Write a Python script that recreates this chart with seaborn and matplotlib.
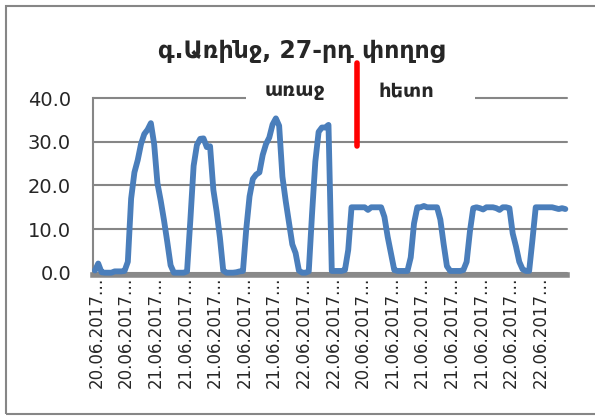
import numpy as np
import pandas as pd
import matplotlib
matplotlib.use("Agg")
import matplotlib.pyplot as plt
from matplotlib.patches import Rectangle
import seaborn as sns

# Chart text
TITLE = "գ.Առինջ, 27-րդ փողոց"
LABEL_BEFORE = "առաջ"
LABEL_AFTER = "հետո"

# Values, one per category (first half = before, second half = after)
before_values = [
    0.5, 2.1, 0.1, 0.0, 0.0, 0.0, 0.3, 0.3, 0.3, 0.4,
    2.5, 17.0, 23.0, 25.8, 29.5, 31.8, 32.8, 34.3, 29.5, 20.5,
    16.5, 12.0, 7.0, 1.7, 0.0, 0.0, 0.0, 0.0, 0.3, 12.0,
    24.5, 29.3, 30.7, 30.8, 28.8, 29.0, 19.0, 14.0, 8.0, 0.5,
    0.0, 0.0, 0.0, 0.1, 0.3, 0.4, 10.0, 17.5, 21.5, 22.5,
    23.0, 27.0, 29.5, 31.0, 34.0, 35.4, 33.7, 22.0, 16.4, 11.5,
    6.5, 4.5, 0.5, 0.0, 0.0, 0.3, 13.5, 25.5, 32.3, 33.3,
    33.3, 33.9,
]
after_values = [
    0.4, 0.4, 0.4, 0.4, 0.6, 5.2, 15.0, 15.0, 15.0, 15.0,
    15.0, 14.4, 15.0, 15.0, 15.0, 15.0, 12.8, 8.2, 4.4, 0.6,
    0.4, 0.4, 0.4, 0.4, 3.5, 11.3, 15.0, 15.0, 15.3, 15.0,
    15.0, 15.0, 15.0, 12.2, 6.6, 1.5, 0.4, 0.4, 0.4, 0.4,
    0.6, 2.5, 9.5, 14.8, 15.0, 14.8, 14.5, 15.0, 15.0, 15.0,
    14.8, 14.4, 15.0, 15.0, 14.8, 9.0, 6.0, 2.5, 0.8, 0.4,
    0.4, 7.5, 15.0, 15.0, 15.0, 15.0, 15.0, 15.0, 14.8, 14.6,
    14.8, 14.6,
]

# Category labels shown every 9 points (truncated like in the original)
x_tick_labels = [
    "20.06.2017…", "20.06.2017…", "21.06.2017…", "21.06.2017…",
    "21.06.2017…", "21.06.2017…", "21.06.2017…", "22.06.2017…",
    "22.06.2017…", "20.06.2017…", "21.06.2017…", "21.06.2017…",
    "21.06.2017…", "21.06.2017…", "22.06.2017…", "22.06.2017…",
]
y_ticks = [0, 10, 20, 30, 40]

# Red separator and the two labels above the plot
red_x = 79.6
red_y = [29, 48]
before_label_pos = (60.8, 41.7)
after_label_pos = (94.8, 41.7)

values = before_values + after_values
df = pd.DataFrame({"step": np.arange(len(values)), "value": values})

sns.set_style("white")
plt.rcParams["font.family"] = ["DejaVu Sans"]

GRAY = "#868686"
BLUE = "#4a7ebb"

fig = plt.figure(figsize=(5.95, 4.16), dpi=100)
ax = fig.add_axes([0.1568, 0.3445, 0.7961, 0.4192])

sns.lineplot(data=df, x="step", y="value", ax=ax, color=BLUE,
             linewidth=4.2, clip_on=False, zorder=5)

ax.set_xlim(-0.5, len(values) - 0.5)
ax.set_ylim(0, 40)
ax.set_xlabel("")
ax.set_ylabel("")

ax.set_yticks(y_ticks)
ax.set_yticklabels([f"{v:.1f}" for v in y_ticks])
ax.set_xticks(np.arange(len(x_tick_labels)) * 9 + 0.5)
ax.set_xticklabels(x_tick_labels)
ax.tick_params(axis="x", length=0, pad=1, labelsize=12, labelrotation=90)
ax.tick_params(axis="y", length=5, width=1.5, color=GRAY, pad=11, labelsize=14)

ax.grid(axis="y", color=GRAY, linewidth=1.5)
ax.grid(axis="x", visible=False)
ax.set_axisbelow(True)
for line in ax.get_ygridlines():
    line.set_clip_on(False)

for side in ["top", "right"]:
    ax.spines[side].set_visible(False)
ax.spines["left"].set_color(GRAY)
ax.spines["left"].set_linewidth(1.5)
ax.spines["bottom"].set_color("#898989")
ax.spines["bottom"].set_linewidth(4)
ax.spines["bottom"].set_position(("outward", 2))

# white box hiding the top gridline behind the labels
ax.add_patch(Rectangle((0.322, 0.96), 0.484, 0.08, transform=ax.transAxes,
                       facecolor="white", edgecolor="none", zorder=3, clip_on=False))

ax.text(*before_label_pos, LABEL_BEFORE, ha="center", va="center",
        fontsize=14, fontweight="bold", zorder=6)
ax.text(*after_label_pos, LABEL_AFTER, ha="center", va="center",
        fontsize=14, fontweight="bold", zorder=6)
ax.plot([red_x, red_x], red_y, color="red", linewidth=4, clip_on=False, zorder=7)

fig.text(0.506, 0.877, TITLE, ha="center", va="center",
         fontsize=17, fontweight="bold")

# outer chart frame
fig.add_artist(Rectangle((6 / 595, 2 / 416), 1.0, 1 - 8 / 416,
                         transform=fig.transFigure, fill=False,
                         edgecolor=GRAY, linewidth=1.5))

fig.savefig("out.png", dpi=100)
